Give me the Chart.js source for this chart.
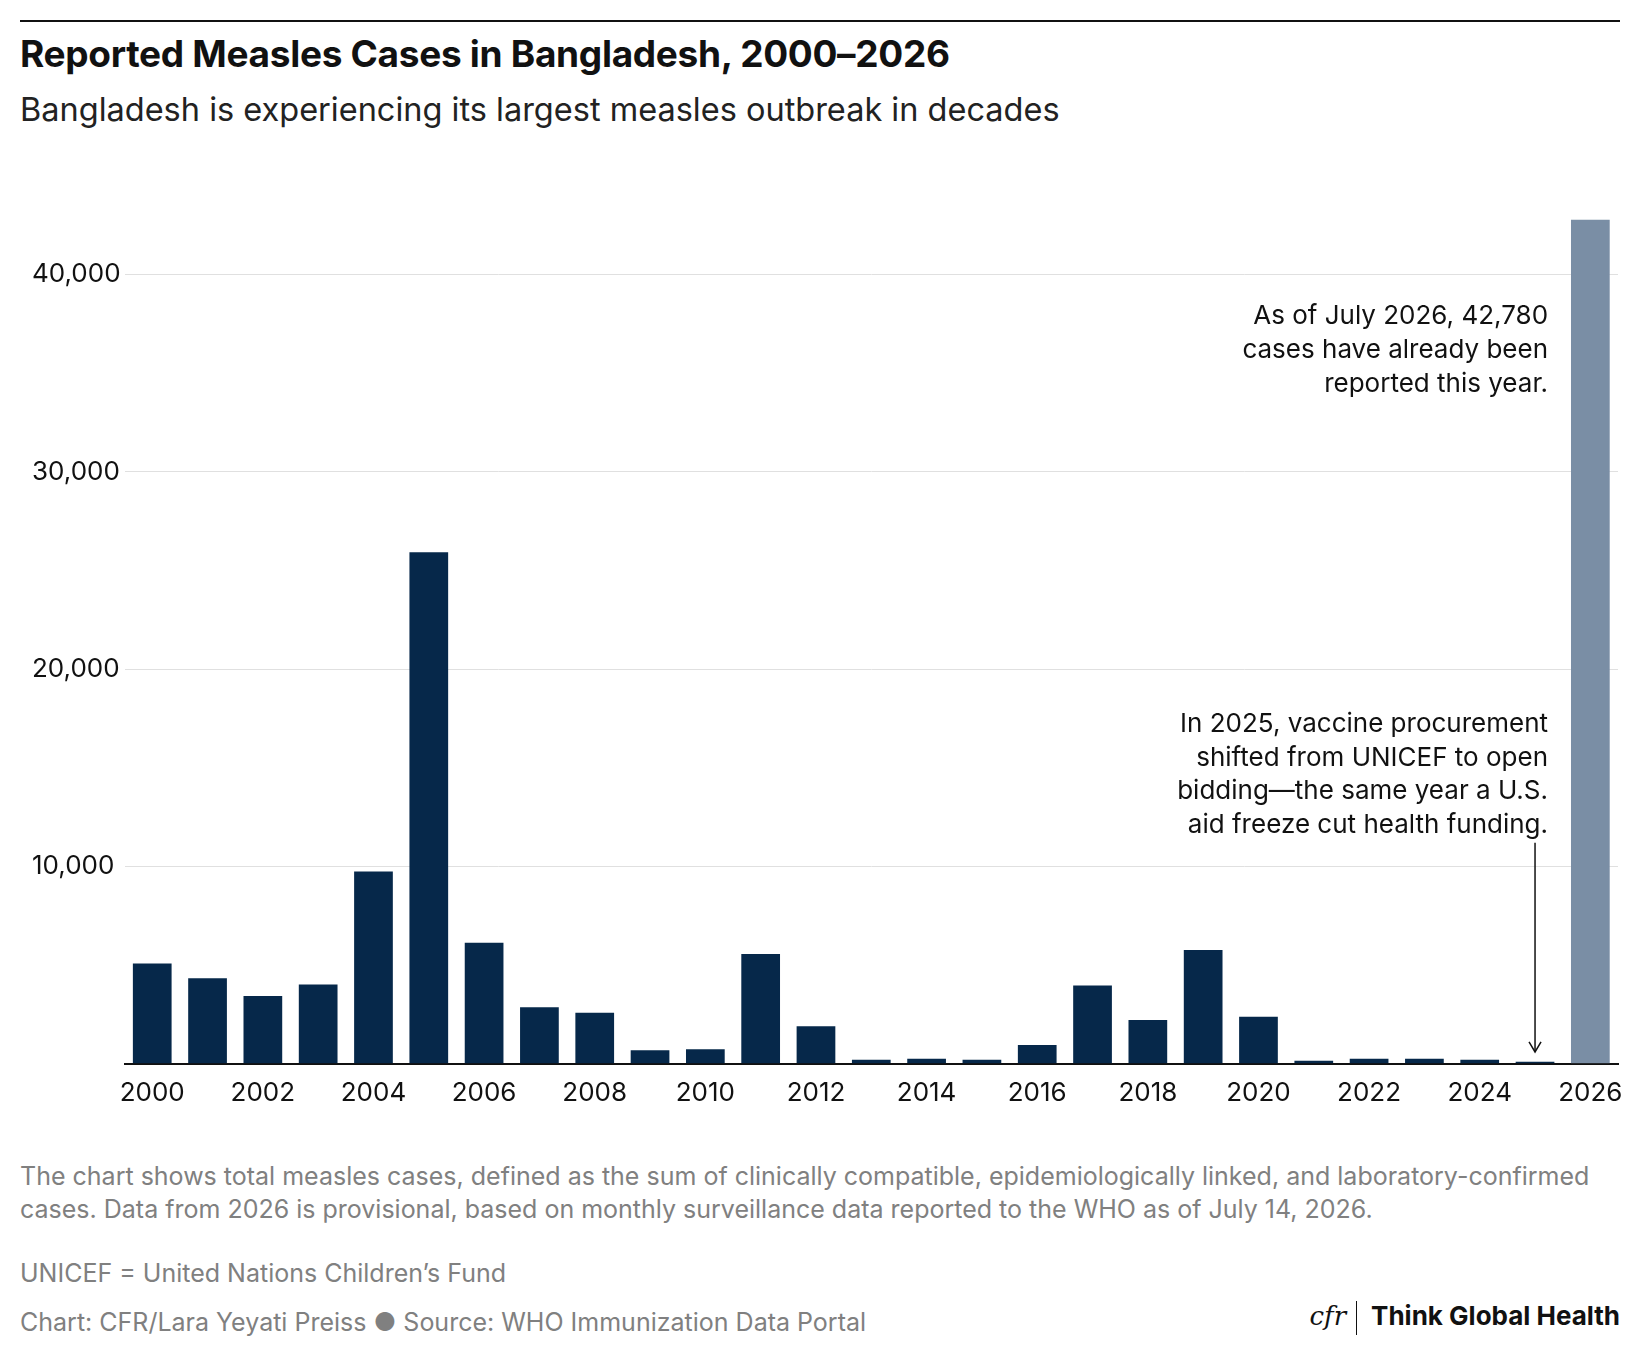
<!DOCTYPE html>
<html><head><meta charset="utf-8">
<script src="https://cdn.jsdelivr.net/npm/chart.js@4"></script>
<style>
body{margin:0;width:1640px;height:1366px;background:#fff;font-family:Inter,"Noto Sans",sans-serif;position:relative;overflow:hidden}
.rule{position:absolute;left:20px;right:20px;top:20px;border-top:2px solid #111}
.t{position:absolute;left:20px;top:31px;font-size:37px;font-weight:700;color:#111;letter-spacing:-0.3px}
.s{position:absolute;left:20px;top:90px;font-size:32.5px;color:#222}
.f{position:absolute;left:20px;font-size:25px;color:#808080;line-height:33px}
#wrap{position:absolute;left:0;top:178px;width:1640px;height:937px}
.logo{position:absolute;right:20px;top:1300px;font-size:26px;font-weight:700;color:#111}
.logo i{font-family:"DejaVu Serif",serif;font-weight:400;margin-right:10px}
.logo span.bar{display:inline-block;width:1px;height:34px;background:#111;vertical-align:middle;margin-right:14px}
</style></head><body>
<div class="rule"></div>
<div class="t">Reported Measles Cases in Bangladesh, 2000–2026</div>
<div class="s">Bangladesh is experiencing its largest measles outbreak in decades</div>
<div id="wrap"><canvas id="c"></canvas></div>
<div class="f" style="top:1160px">The chart shows total measles cases, defined as the sum of clinically compatible, epidemiologically linked, and laboratory-confirmed<br>cases. Data from 2026 is provisional, based on monthly surveillance data reported to the WHO as of July 14, 2026.</div>
<div class="f" style="top:1257px">UNICEF = United Nations Children’s Fund</div>
<div class="f" style="top:1306px">Chart: CFR/Lara Yeyati Preiss ● Source: WHO Immunization Data Portal</div>
<div class="logo"><i>cfr</i><span class="bar"></span>Think Global Health</div>
<script>
const years = ["2000","2001","2002","2003","2004","2005","2006","2007","2008","2009","2010","2011","2012","2013","2014","2015","2016","2017","2018","2019","2020","2021","2022","2023","2024","2025","2026"];
const cases = [5080,4340,3440,4020,9740,25930,6140,2860,2590,690,740,5560,1900,210,260,210,950,3970,2220,5770,2380,160,260,260,210,100,42780];
const yTicks = [0,10000,20000,30000,40000];
const note2026 = ["As of July 2026, 42,780","cases have already been","reported this year."];
const note2025 = ["In 2025, vaccine procurement","shifted from UNICEF to open","bidding—the same year a U.S.","aid freeze cut health funding."];

const notes = {id:'notes', afterDatasetsDraw(ch){
  const {ctx, scales:{x,y}} = ch;
  ctx.save();
  ctx.font = '26px Inter, sans-serif'; ctx.fillStyle = '#111';
  ctx.textAlign = 'right'; ctx.textBaseline = 'middle';
  const rx = x.getPixelForValue(25) + 13;
  note2026.forEach((l,i)=>ctx.fillText(l, rx, y.getPixelForValue(37900) + i*34));
  note2025.forEach((l,i)=>ctx.fillText(l, rx, y.getPixelForValue(17200) + i*33.5));
  const ax = x.getPixelForValue(25), y0 = y.getPixelForValue(11200), y1 = y.getPixelForValue(600);
  ctx.strokeStyle = '#111'; ctx.lineWidth = 1.5;
  ctx.beginPath(); ctx.moveTo(ax,y0); ctx.lineTo(ax,y1); ctx.stroke();
  ctx.beginPath(); ctx.moveTo(ax-6,y1-10); ctx.lineTo(ax,y1); ctx.lineTo(ax+6,y1-10); ctx.stroke();
  ctx.restore();
}};

new Chart(document.getElementById('c'), {
  type:'bar',
  data:{labels:years, datasets:[{data:cases,
    backgroundColor: years.map(y=>y==="2026"?'#7a8ea5':'#06284a'),
    barPercentage:0.7, categoryPercentage:1}]},
  options:{responsive:true, maintainAspectRatio:false, animation:false,
    layout:{padding:{left:32,right:22,top:0,bottom:0}},
    plugins:{legend:{display:false}, tooltip:{enabled:false}},
    scales:{
      x:{grid:{display:false}, border:{color:'#111',width:2},
        ticks:{autoSkip:false, maxRotation:0, color:'#111', font:{size:26, family:'Inter'}, padding:6,
          callback:(v,i)=> i%2===0 ? years[i] : ''}},
      y:{min:0, max:44000, border:{display:false},
        afterBuildTicks: ax=>{ax.ticks = yTicks.map(v=>({value:v}));},
        grid:{color:'#e0e0e0', drawTicks:false},
        ticks:{color:'#111', font:{size:26, family:'Inter'}, padding:2, crossAlign:'far',
          callback:v=> v===0 ? '' : v.toLocaleString('en-US')}}
    }},
  plugins:[notes]
});
</script>
</body></html>
